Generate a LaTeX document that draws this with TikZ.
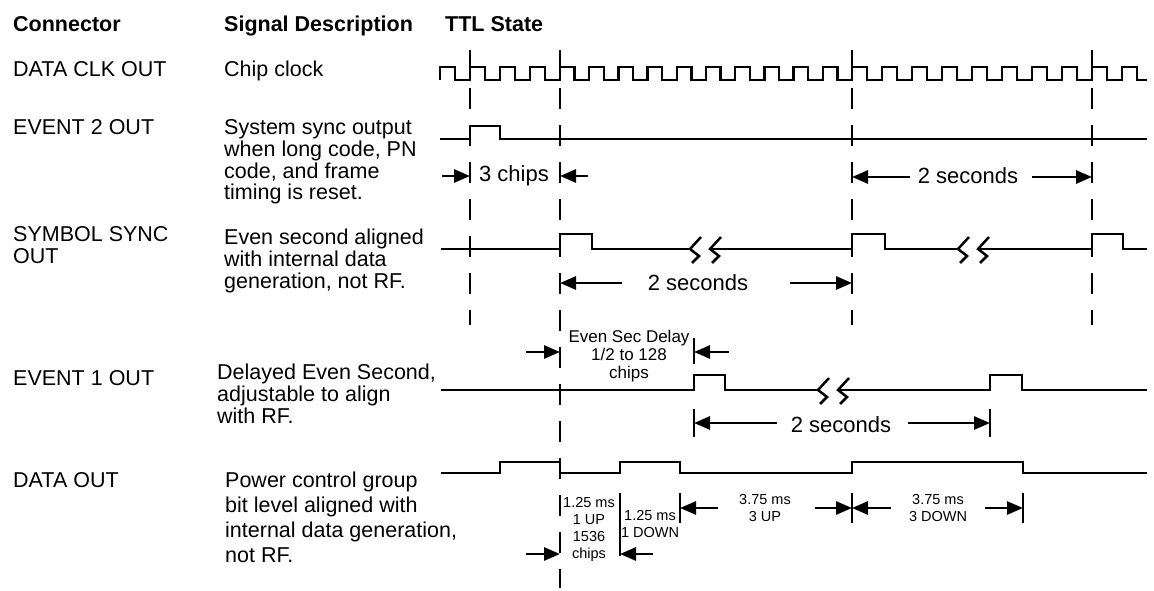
\documentclass[tikz,border=0pt]{standalone}
\usepackage{fontspec}
\setmainfont{Liberation Sans}
\usetikzlibrary{arrows.meta}
\begin{document}
\begin{tikzpicture}[x=1pt,y=-1pt,
  sig/.style={line width=2.5pt, line join=miter},
  brk/.style={line width=2.5pt, line join=miter},
  guide/.style={line width=2.8pt, dash pattern=on 21pt off 16pt},
  dim/.style={line width=2.8pt, -{Triangle[length=16pt,width=13pt]}},
  tickmark/.style={line width=2.8pt},
  lbl/.style={inner sep=0pt, anchor=base west, font=\fontsize{21.5}{21.7}\selectfont, align=left},
  hdr/.style={inner sep=0pt, anchor=base west, font=\fontsize{21.5}{22}\selectfont\bfseries},
  big/.style={inner sep=0pt, anchor=base, font=\fontsize{22}{22}\selectfont},
  small/.style={inner sep=0pt, anchor=base, align=center, font=\fontsize{14.5}{16.7}\selectfont},
]
\useasboundingbox (0,0) rectangle (1154,591);

% headers
\node[hdr] (hconn) at (13,32) {Connector};
\node[hdr] (hsig) at (224,32) {Signal Description};
\node[hdr] (httl) at (445,32) {TTL State};

% connector names (multi-line nodes: anchor on last baseline)
\node[lbl] (c1) at (13,77) {DATA CLK OUT};
\node[lbl] (c2) at (13,135) {EVENT 2 OUT};
\node[lbl] (c3) at (13,263) {SYMBOL SYNC\\OUT};
\node[lbl] (c4) at (13,385) {EVENT 1 OUT};
\node[lbl] (c5) at (13,487) {DATA OUT};

% descriptions
\node[lbl] (d1) at (224,77) {Chip clock};
\node[lbl] (d2) at (224,200) {System sync output\\when long code, PN\\code, and frame\\timing is reset.};
\node[lbl] (d3) at (224,288) {Even second aligned\\with internal data\\generation, not RF.};
\node[lbl] (d4) at (217,423) {Delayed Even Second,\\adjustable to align\\with RF.};
\node[lbl, font=\fontsize{21.5}{25}\selectfont] (d5) at (225,562) {Power control group\\bit level aligned with\\internal data generation,\\not RF.};

% guide lines
\foreach \gx/\gend in {470/325, 560/588, 852/325, 1092/325} {
  \draw[guide] (\gx,50) -- (\gx,82);
  \draw[guide] (\gx,88) -- (\gx,\gend);
}

% clock
\draw[sig] (440,80) -- ++(0,-13) -- ++(15,0) -- ++(0,13) -- (470,80)
  foreach \i in {1,2,3} { -- ++(0,-13) -- ++(15,0) -- ++(0,13) -- ++(15,0) }
  foreach \i in {1,...,10} { -- ++(0,-13) -- ++(14.6,0) -- ++(0,13) -- ++(14.6,0) }
  foreach \i in {1,...,8} { -- ++(0,-13) -- ++(15,0) -- ++(0,13) -- ++(15,0) }
  -- ++(0,-13) -- ++(15,0) -- ++(0,13) -- ++(15,0) -- ++(0,-13) -- ++(15,0) -- ++(0,13) -- ++(10,0);

% event 2
\draw[sig] (440,139) -- (470,139) -- (470,126) -- (500,126) -- (500,139) -- (1147,139);
\draw[dim] (442,176) -- (470,176);
\draw[dim] (588,176) -- (560,176);
\node[big] (t3chips) at (514,182) {3 chips};
\draw[dim] (910,177) -- (852,177);
\draw[dim] (1032,177) -- (1092,177);
\node[big] (t2s1) at (968,183) {2 seconds};

% symbol sync
\draw[sig] (441,249) -- (560,249) -- (560,234) -- (592,234) -- (592,249) -- (690,249);
\draw[brk] (701,237) -- (690,249) -- (699,256) -- (692,263);
\draw[brk] (721,237) -- (710,249) -- (719,256) -- (712,263);
\draw[sig] (710,249) -- (852,249) -- (852,234) -- (885,234) -- (885,249) -- (958,249);
\draw[brk] (969,237) -- (958,249) -- (967,256) -- (960,263);
\draw[brk] (989,237) -- (978,249) -- (987,256) -- (980,263);
\draw[sig] (978,249) -- (1092,249) -- (1092,234) -- (1123,234) -- (1123,249) -- (1147,249);
\draw[dim] (622,283) -- (560,283);
\draw[dim] (790,283) -- (852,283);
\node[big] (t2s2) at (698,290) {2 seconds};

% event 1
\draw[dim] (526,352) -- (560,352);
\draw[dim] (729,352) -- (694,352);
\draw[tickmark] (694,338) -- (694,364);
\node[small, font=\fontsize{17}{18}\selectfont] (tdelay) at (629,378) {Even Sec Delay\\1/2 to 128\\chips};
\draw[sig] (441,390) -- (694,390) -- (694,375) -- (725,375) -- (725,390) -- (818,390);
\draw[brk] (829,378) -- (818,390) -- (827,397) -- (820,404);
\draw[brk] (849,378) -- (838,390) -- (847,397) -- (840,404);
\draw[sig] (838,390) -- (990,390) -- (990,375) -- (1022,375) -- (1022,390) -- (1147,390);
\draw[tickmark] (694,409) -- (694,437);
\draw[tickmark] (990,409) -- (990,437);
\draw[dim] (777,423) -- (694,423);
\draw[dim] (908,423) -- (990,423);
\node[big] (t2s3) at (841,432) {2 seconds};

% data out
\draw[sig] (441,473) -- (500,473) -- (500,462) -- (560,462) -- (560,473) -- (620,473) -- (620,462) -- (680,462) -- (680,473) -- (852,473) -- (852,462) -- (1023,462) -- (1023,473) -- (1147,473);
\draw[tickmark] (620,493) -- (620,556);
\draw[tickmark] (680,493) -- (680,523);
\draw[tickmark] (852,493) -- (852,523);
\draw[tickmark] (1023,493) -- (1023,523);
\draw[dim] (526,554) -- (560,554);
\draw[dim] (653,554) -- (620,554);
\draw[dim] (718,508) -- (680,508);
\draw[dim] (815,508) -- (852,508);
\draw[dim] (891,508) -- (852,508);
\draw[dim] (985,508) -- (1023,508);
\node[small] (tup1) at (589,558) {1.25 ms\\1 UP\\1536\\chips};
\node[small] (tdn1) at (650,537) {1.25 ms\\1 DOWN};
\node[small] (tup3) at (765,521) {3.75 ms\\3 UP};
\node[small] (tdn3) at (938,521) {3.75 ms\\3 DOWN};
\end{tikzpicture}
\end{document}
